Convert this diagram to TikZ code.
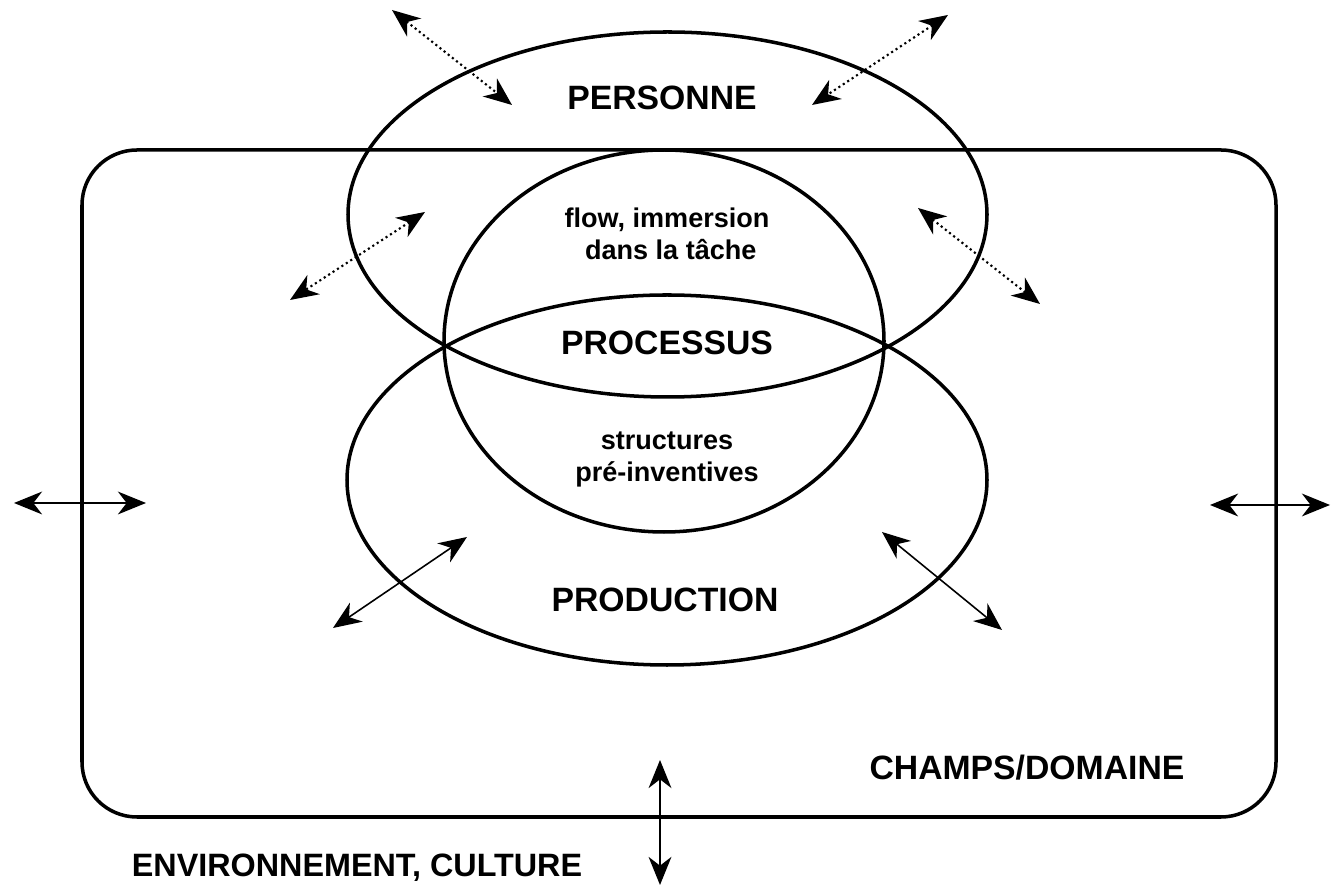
\documentclass[tikz,border=0pt]{standalone}
\usepackage{fontspec}
\setmainfont{Liberation Sans}
\usetikzlibrary{arrows.meta}

\begin{document}
\begin{tikzpicture}[
		line width=1pt,
		every node/.style={font=\fontsize{9.6}{11}\selectfont\bfseries},
		small/.style={font=\fontsize{7.7}{9.1}\selectfont\bfseries, align=center},
		link/.style={line width=0.45pt, {Stealth[length=8pt, width=6.5pt, inset=2.5pt]}-{Stealth[length=8pt, width=6.5pt, inset=2.5pt]}},
		dlink/.style={link, dash pattern=on 0.6pt off 0.9pt, line width=0.6pt}
	]
  \useasboundingbox (0cm, 0cm) rectangle (13.33cm, 8.89cm);
  % champ et ellipses
  \draw[rounded corners=0.55cm] (0.82cm, 0.72cm) rectangle (12.76cm, 7.39cm);
  \draw (6.675cm, 6.745cm) ellipse [x radius=3.195cm, y radius=1.825cm];
  \draw (6.67cm, 4.09cm) ellipse [x radius=3.20cm, y radius=1.85cm];
  \draw (6.64cm, 5.48cm) ellipse [x radius=2.20cm, y radius=1.91cm];
  % textes
  \node (pers) at (6.62cm, 7.91cm) {PERSONNE};
  \node (flow) [small] at (6.67cm, 6.55cm) {flow, immersion\\\ dans la t\^ache};
  \node (proc) at (6.67cm, 5.46cm) {PROCESSUS};
  \node (struct) [small] at (6.67cm, 4.30cm) {structures\\pr\'e-inventives};
  \node (prod) at (6.65cm, 2.89cm) {PRODUCTION};
  \node (champ) at (10.27cm, 1.21cm) {CHAMPS/DOMAINE};
  \node (env) [font=\fontsize{9.2}{11}\selectfont\bfseries] at (3.57cm, 0.21cm) {ENVIRONNEMENT, CULTURE};
  % extremites des fleches
  \coordinate (d1a) at (3.92cm, 8.79cm);
  \coordinate (d1b) at (5.12cm, 7.84cm);
  \coordinate (d2a) at (9.48cm, 8.74cm);
  \coordinate (d2b) at (8.12cm, 7.84cm);
  \coordinate (d3a) at (4.25cm, 6.77cm);
  \coordinate (d3b) at (2.90cm, 5.89cm);
  \coordinate (d4a) at (9.18cm, 6.81cm);
  \coordinate (d4b) at (10.40cm, 5.85cm);
  \coordinate (s1a) at (4.67cm, 3.52cm);
  \coordinate (s1b) at (3.33cm, 2.61cm);
  \coordinate (s2a) at (8.82cm, 3.57cm);
  \coordinate (s2b) at (10.02cm, 2.59cm);
  \coordinate (s3a) at (0.14cm, 3.86cm);
  \coordinate (s3b) at (1.46cm, 3.86cm);
  \coordinate (s4a) at (12.10cm, 3.84cm);
  \coordinate (s4b) at (13.30cm, 3.84cm);
  \coordinate (s5a) at (6.60cm, 1.29cm);
  \coordinate (s5b) at (6.60cm, 0.04cm);
  % fleches
  \draw[dlink] (d1a) -- (d1b);
  \draw[dlink] (d2a) -- (d2b);
  \draw[dlink] (d3a) -- (d3b);
  \draw[dlink] (d4a) -- (d4b);
  \draw[link] (s1a) -- (s1b);
  \draw[link] (s2a) -- (s2b);
  \draw[link] (s3a) -- (s3b);
  \draw[link] (s4a) -- (s4b);
  \draw[link] (s5a) -- (s5b);
\end{tikzpicture}
\end{document}
